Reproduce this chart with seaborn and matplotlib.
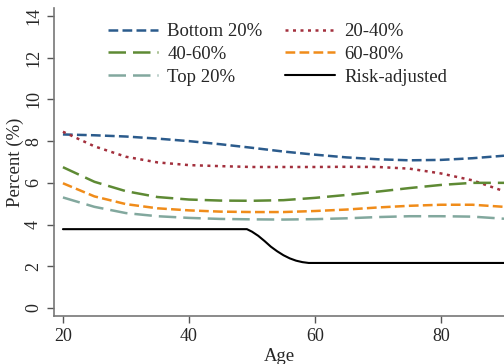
import numpy as np
import pandas as pd
import matplotlib
matplotlib.use("Agg")
import matplotlib.pyplot as plt
import seaborn as sns

sns.set_style("ticks")
plt.rcParams['font.family'] = ['Liberation Serif', 'DejaVu Serif']

ages = [20, 25, 30, 35, 40, 45, 50, 55, 60, 65, 70, 75, 80, 85, 90]
bottom20 = [8.32, 8.28, 8.22, 8.12, 8.0, 7.85, 7.68, 7.5, 7.35, 7.22, 7.13, 7.08, 7.1, 7.18, 7.3]
p20_40 = [8.45, 7.75, 7.25, 6.98, 6.85, 6.8, 6.76, 6.76, 6.76, 6.77, 6.76, 6.68, 6.45, 6.12, 5.6]
p40_60 = [6.75, 6.05, 5.6, 5.32, 5.2, 5.15, 5.14, 5.17, 5.28, 5.42, 5.58, 5.75, 5.9, 6.0, 6.0]
p60_80 = [5.98, 5.35, 4.98, 4.78, 4.68, 4.62, 4.6, 4.6, 4.65, 4.72, 4.82, 4.9, 4.95, 4.95, 4.85]
top20 = [5.3, 4.85, 4.55, 4.4, 4.32, 4.27, 4.25, 4.24, 4.26, 4.3, 4.36, 4.4, 4.4, 4.38, 4.28]

risk_ages = [20, 49.2, 50, 51, 52, 53, 54, 55, 56, 57, 58, 59, 90]
risk_adj = [3.78, 3.78, 3.66, 3.46, 3.21, 2.94, 2.72, 2.53, 2.38, 2.27, 2.2, 2.16, 2.16]

series = [
    ("Bottom 20%", bottom20, "#2b5b8c", (3.9, 1.7)),
    ("20-40%", p20_40, "#a3303d", (1.2, 1.8)),
    ("40-60%", p40_60, "#5e8a34", (7, 2.8)),
    ("60-80%", p60_80, "#f08c1a", (3.9, 1.7)),
    ("Top 20%", top20, "#82a89e", (7, 2.8)),
]

fig = plt.figure(figsize=(5.04, 3.64), dpi=100)
ax = fig.add_axes([0.107, 0.132, 0.893, 0.846])

for name, vals, col, dash in series:
    df = pd.DataFrame({"age": ages, "pct": vals})
    sns.lineplot(data=df, x="age", y="pct", ax=ax, color=col, lw=1.8,
                 label=name, dashes=False)
    ax.lines[-1].set_dashes(dash)

dr = pd.DataFrame({"age": risk_ages, "pct": risk_adj})
sns.lineplot(data=dr, x="age", y="pct", ax=ax, color="black", lw=1.5, label="Risk-adjusted")

ax.set_xlim(18.57, 90)
ax.set_ylim(-0.38, 14.38)
ax.set_xticks([20, 40, 60, 80])
ax.set_yticks(range(0, 15, 2))
ax.tick_params(labelsize=13, color="#555555", length=5, width=1)
for lab in ax.get_yticklabels():
    lab.set_rotation(90)
    lab.set_va("center")
ax.set_xlabel("Age", fontsize=13.5, labelpad=2.5)
ax.set_ylabel("Percent (%)", fontsize=13.5, labelpad=1)
sns.despine(ax=ax)
for s in ["left", "bottom"]:
    ax.spines[s].set_color("#777777")
    ax.spines[s].set_linewidth(1.2)

h, l = ax.get_legend_handles_labels()
order = [0, 2, 4, 1, 3, 5]
ax.legend([h[i] for i in order], [l[i] for i in order], ncol=2, frameon=False,
          fontsize=13.5, handlelength=2.67, handletextpad=0.5, columnspacing=1.2,
          labelspacing=0.3, loc="upper left", bbox_to_anchor=(0.082, 1.006))

fig.savefig("out.png", dpi=100)
